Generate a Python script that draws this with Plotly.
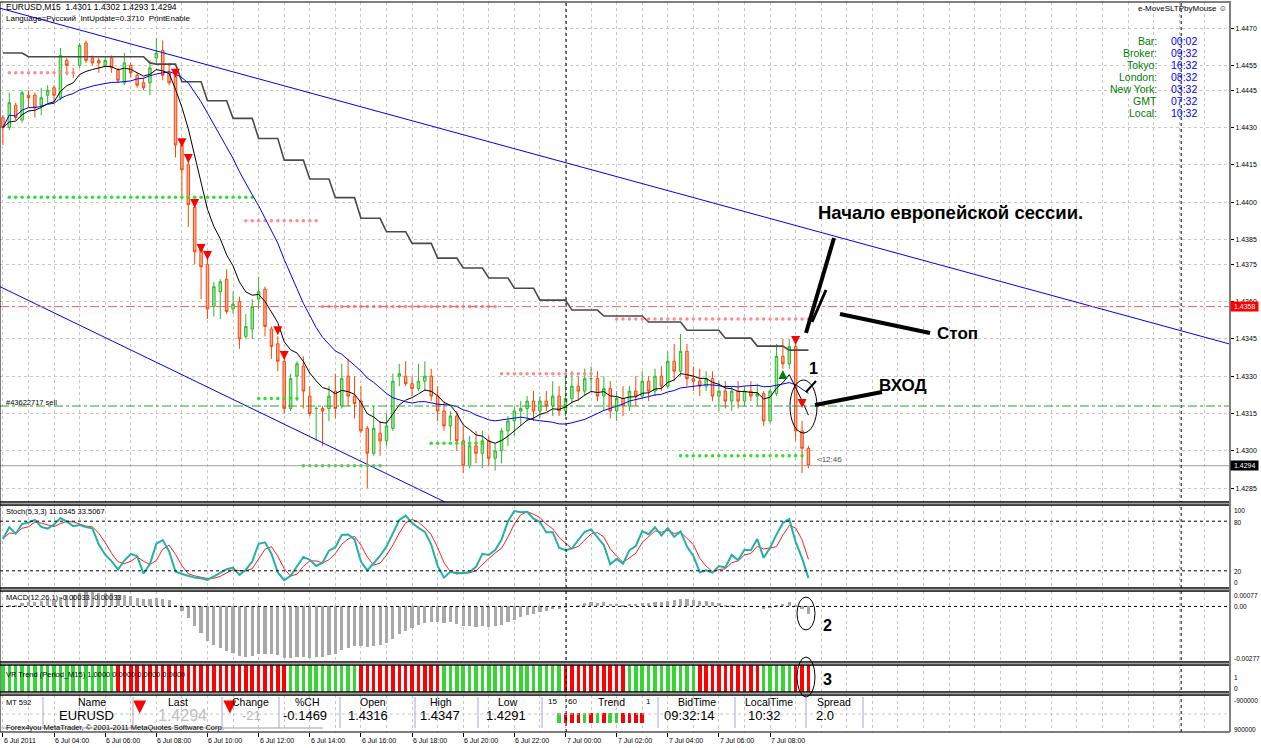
import numpy as np
import plotly.graph_objects as go

# ---------------- data (EURUSD M15, 6 Jul 02:00 .. 7 Jul 09:30) ----------------
opens = [1.4434,1.4430,1.4439,1.4433,1.4443,1.4443,1.4439,1.4443,1.4446,1.4442,
         1.4457,1.4452,1.4455,1.4464,1.4458,1.4457,1.4455,1.4458,1.4453,1.4448,
         1.4455,1.4451,1.4448,1.4448,1.4458,1.4461,1.4452,1.4451,1.4423,1.4415,
         1.4398,1.4381,1.4375,1.4358,1.4364,1.4369,1.4357,1.4360,1.4346,1.4349,
         1.4361,1.4365,1.4349,1.4343,1.4336,1.4317,1.4330,1.4334,1.4322,1.4317,
         1.4317,1.4317,1.4324,1.4318,1.4330,1.4322,1.4320,1.4309,1.4299,1.4307,
         1.4304,1.4309,1.4330,1.4330,1.4327,1.4325,1.4328,1.4330,1.4322,1.4316,
         1.4310,1.4314,1.4304,1.4294,1.4302,1.4299,1.4304,1.4297,1.4300,1.4308,
         1.4312,1.4316,1.4317,1.4320,1.4316,1.4320,1.4318,1.4322,1.4316,1.4321,
         1.4326,1.4324,1.4329,1.4329,1.4322,1.4325,1.4316,1.4321,1.4318,1.4324,
         1.4322,1.4328,1.4324,1.4330,1.4326,1.4336,1.4332,1.4340,1.4329,1.4328,
         1.4326,1.4329,1.4322,1.4324,1.4320,1.4324,1.4320,1.4324,1.4322,1.4323,
         1.4312,1.4323,1.4338,1.4335,1.4342,1.4308,1.4301]
highs = [1.4435,1.4444,1.4440,1.4445,1.4445,1.4444,1.4446,1.4447,1.4447,1.4462,
         1.4458,1.4454,1.4464,1.4465,1.4459,1.4458,1.4458,1.4459,1.4454,1.4460,
         1.4456,1.4452,1.4450,1.4457,1.4466,1.4465,1.4456,1.4453,1.4424,1.4418,
         1.4400,1.4382,1.4378,1.4368,1.4369,1.4373,1.4364,1.4362,1.4355,1.4361,
         1.4370,1.4366,1.4350,1.4346,1.4338,1.4331,1.4336,1.4338,1.4326,1.4318,
         1.4318,1.4326,1.4331,1.4335,1.4337,1.4330,1.4326,1.4310,1.4318,1.4312,
         1.4315,1.4331,1.4335,1.4336,1.4330,1.4335,1.4336,1.4333,1.4326,1.4320,
         1.4316,1.4316,1.4310,1.4306,1.4308,1.4308,1.4306,1.4303,1.4309,1.4314,
         1.4318,1.4320,1.4322,1.4324,1.4322,1.4324,1.4328,1.4326,1.4330,1.4332,
         1.4330,1.4333,1.4334,1.4332,1.4330,1.4328,1.4324,1.4326,1.4326,1.4330,
         1.4332,1.4330,1.4333,1.4334,1.4340,1.4343,1.4347,1.4343,1.4334,1.4333,
         1.4332,1.4332,1.4328,1.4328,1.4326,1.4328,1.4326,1.4328,1.4327,1.4324,
         1.4325,1.4343,1.4345,1.4345,1.4345,1.4312,1.4302]
lows = [1.4423,1.4429,1.4433,1.4432,1.4438,1.4434,1.4435,1.4440,1.4440,1.4441,
        1.4451,1.4450,1.4454,1.4456,1.4455,1.4452,1.4454,1.4452,1.4448,1.4447,
        1.4450,1.4446,1.4445,1.4443,1.4456,1.4449,1.4447,1.4418,1.4401,1.4390,
        1.4375,1.4361,1.4353,1.4354,1.4353,1.4355,1.4355,1.4341,1.4345,1.4345,
        1.4357,1.4346,1.4337,1.4332,1.4315,1.4316,1.4320,1.4317,1.4314,1.4304,
        1.4302,1.4312,1.4313,1.4317,1.4318,1.4313,1.4307,1.4285,1.4298,1.4298,
        1.4302,1.4308,1.4326,1.4326,1.4322,1.4324,1.4324,1.4320,1.4312,1.4308,
        1.4304,1.4300,1.4291,1.4293,1.4295,1.4293,1.4294,1.4292,1.4295,1.4302,
        1.4306,1.4310,1.4312,1.4312,1.4313,1.4316,1.4314,1.4314,1.4314,1.4319,
        1.4320,1.4322,1.4324,1.4320,1.4316,1.4313,1.4312,1.4314,1.4316,1.4318,
        1.4321,1.4320,1.4322,1.4324,1.4325,1.4328,1.4330,1.4326,1.4324,1.4322,
        1.4324,1.4320,1.4316,1.4317,1.4316,1.4317,1.4318,1.4320,1.4318,1.4310,
        1.4311,1.4322,1.4333,1.4333,1.4304,1.4291,1.4293]
closes = [1.4430,1.4440,1.4434,1.4444,1.4442,1.4438,1.4442,1.4445,1.4443,1.4459,
          1.4455,1.4452,1.4463,1.4457,1.4456,1.4456,1.4457,1.4454,1.4449,1.4456,
          1.4452,1.4447,1.4446,1.4454,1.4460,1.4451,1.4448,1.4423,1.4413,1.4399,
          1.4380,1.4374,1.4357,1.4366,1.4368,1.4356,1.4359,1.4345,1.4350,1.4358,
          1.4364,1.4350,1.4342,1.4336,1.4317,1.4329,1.4335,1.4324,1.4315,1.4317,
          1.4316,1.4322,1.4317,1.4329,1.4322,1.4319,1.4308,1.4299,1.4309,1.4304,
          1.4310,1.4328,1.4331,1.4327,1.4325,1.4328,1.4330,1.4322,1.4316,1.4310,
          1.4314,1.4304,1.4294,1.4302,1.4299,1.4304,1.4297,1.4300,1.4308,1.4312,
          1.4316,1.4317,1.4320,1.4316,1.4320,1.4318,1.4322,1.4316,1.4321,1.4326,
          1.4324,1.4329,1.4329,1.4322,1.4325,1.4316,1.4321,1.4318,1.4324,1.4322,
          1.4328,1.4324,1.4330,1.4326,1.4336,1.4332,1.4340,1.4329,1.4328,1.4326,
          1.4329,1.4322,1.4324,1.4320,1.4324,1.4320,1.4324,1.4322,1.4323,1.4312,
          1.4324,1.4338,1.4335,1.4342,1.4308,1.4301,1.4294]

tick_bars = [0, 8, 16, 24, 32, 40, 48, 56, 64, 72, 80, 88, 96, 104, 112, 120]
tick_text = ["6 Jul 2011", "6 Jul 04:00", "6 Jul 06:00", "6 Jul 08:00", "6 Jul 10:00",
             "6 Jul 12:00", "6 Jul 14:00", "6 Jul 16:00", "6 Jul 18:00", "6 Jul 20:00",
             "6 Jul 22:00", "7 Jul 00:00", "7 Jul 02:00", "7 Jul 04:00", "7 Jul 06:00",
             "7 Jul 08:00"]
price_ticks = [1.4470, 1.4455, 1.4445, 1.4430, 1.4415, 1.4400, 1.4385, 1.4375,
               1.4360, 1.4345, 1.4330, 1.4315, 1.4300, 1.4285]

# stepped trailing-stop line (start bar, end bar, level)
trail_start = [0, 4, 23, 24, 28, 32, 36, 40, 44, 48, 52, 56, 60, 64, 68, 72, 76, 80, 84, 89, 94, 101, 107, 113, 118, 123]
trail_end   = [3, 22, 23, 27, 31, 35, 39, 43, 47, 51, 55, 59, 63, 67, 71, 75, 79, 83, 88, 93, 100, 106, 112, 117, 122, 126]
trail_level = [1.4460, 1.44585, 1.4456, 1.44555, 1.44484, 1.44408, 1.44337, 1.44256, 1.44169,
               1.44093, 1.44018, 1.43935, 1.43881, 1.43834, 1.43775, 1.43735, 1.43695, 1.43654,
               1.43606, 1.43566, 1.43542, 1.43518, 1.43485, 1.43453, 1.43421, 1.43405]

# dotted support / resistance levels
lvl_price = [1.4452, 1.4402, 1.43925, 1.4358, 1.4321, 1.4294, 1.4303, 1.4331, 1.4353, 1.4298]
lvl_start = [1, 1, 38, 50, 40, 47, 67, 78, 96, 106]
lvl_end   = [11, 39, 49, 77, 46, 59, 75, 92, 126, 125]
lvl_kind  = ["res", "sup", "res", "res", "sup", "sup", "sup", "res", "res", "sup"]

sell_bars = [27, 28, 29, 30, 31, 32, 43, 44, 124, 125]
sell_price = [1.4450, 1.44221, 1.44157, 1.43976, 1.43795, 1.43767, 1.43465, 1.43365, 1.43425, 1.43172]
buy_bars = [122]
buy_price = [1.43325]

upper_line_bars = [-0.4536, 191.94]
upper_line_price = [1.4478, 1.43429]
lower_line_bars = [-0.4536, 69.15]
lower_line_price = [1.43660, 1.42794]

stop_level = 1.4358
order_level = 1.4318
bid_level = 1.4294

# VR Trend colour blocks
vr_start = [0, 18, 45, 50, 56, 69, 75, 88, 98, 109, 119, 124]
vr_end   = [17, 44, 49, 55, 68, 74, 87, 97, 108, 118, 123, 126]
vr_state = [1, 0, 1, 1, 0, 1, 1, 0, 1, 0, 1, 0]

mini_trend = [1, 0, 0, 0, 1, 0, 1, 0, 1, 1, 0, 0, 0, 0]

# ---------------- indicators ----------------
c = np.array(closes); h = np.array(highs); l = np.array(lows)
n = len(c)
bars = np.arange(n)

def ema(a, p):
    k = 2.0 / (p + 1); out = np.empty_like(a); out[0] = a[0]
    for i in range(1, len(a)):
        out[i] = k * a[i] + (1 - k) * out[i - 1]
    return out

def sma(a, p):
    return np.array([a[max(0, i - p + 1):i + 1].mean() for i in range(len(a))])

fast_ma = ema(c, 8)
slow_ma = sma(c, 21)
hh = np.array([h[max(0, i - 4):i + 1].max() for i in range(n)])
ll = np.array([l[max(0, i - 4):i + 1].min() for i in range(n)])
num = c - ll; den = hh - ll
stoch_main = np.array([100 * num[max(0, i - 2):i + 1].sum() / max(den[max(0, i - 2):i + 1].sum(), 1e-9) for i in range(n)])
stoch_sig = sma(stoch_main, 3)
macd = ema(c, 12) - ema(c, 26)

# ---------------- geometry helpers ----------------
W, H = 1230.0, 732.0
def P(x): return x / W
def Q(y): return 1 - y / H

FONT = "Liberation Sans"
panels = {"price": (2, 502), "stoch": (505, 588), "macd": (591, 662), "vr": (665, 692), "table": (695, 732)}
XR = [-0.4536, 191.94]

fig = go.Figure()

# trend channel
fig.add_trace(go.Scatter(x=upper_line_bars, y=upper_line_price, mode="lines", line=dict(color="#0000FF", width=1), yaxis="y"))
fig.add_trace(go.Scatter(x=lower_line_bars, y=lower_line_price, mode="lines", line=dict(color="#0000FF", width=1), yaxis="y"))

# trailing line
tx, ty = [], []
for s, e, v in zip(trail_start, trail_end, trail_level):
    tx += [s, e]; ty += [v, v]
fig.add_trace(go.Scatter(x=tx, y=ty, mode="lines", line=dict(color="#4A4A4A", width=1.6), yaxis="y"))

# dotted levels
for kind, col in (("res", "#FF8C8C"), ("sup", "#33DD33")):
    dx, dy = [], []
    for p_, s, e, k in zip(lvl_price, lvl_start, lvl_end, lvl_kind):
        if k == kind:
            dx += list(range(s, e + 1)); dy += [p_] * (e - s + 1)
    fig.add_trace(go.Scatter(x=dx, y=dy, mode="markers", marker=dict(color=col, size=3.5), yaxis="y"))

# candles
fig.add_trace(go.Candlestick(x=bars, open=opens, high=highs, low=lows, close=closes,
                             increasing=dict(line=dict(color="#2DB82D", width=1), fillcolor="#9BE89B"),
                             decreasing=dict(line=dict(color="#FF4500", width=1), fillcolor="#F8B0A0"),
                             yaxis="y"))

fig.add_trace(go.Scatter(x=bars, y=slow_ma, mode="lines", line=dict(color="#0000FF", width=1), yaxis="y"))
fig.add_trace(go.Scatter(x=bars, y=fast_ma, mode="lines", line=dict(color="#000000", width=1), yaxis="y"))

fig.add_trace(go.Scatter(x=sell_bars, y=sell_price, mode="markers", marker=dict(symbol="arrow-down", color="#FF0000", size=9), yaxis="y"))
fig.add_trace(go.Scatter(x=buy_bars, y=buy_price, mode="markers", marker=dict(symbol="arrow-up", color="#008000", size=9), yaxis="y"))

# stochastic
fig.add_trace(go.Scatter(x=bars, y=stoch_sig, mode="lines", line=dict(color="#FF2020", width=1), yaxis="y2"))
fig.add_trace(go.Scatter(x=bars, y=stoch_main, mode="lines", line=dict(color="#20B2AA", width=2), yaxis="y2"))

# MACD
fig.add_trace(go.Bar(x=bars, y=macd, width=0.5, marker=dict(color="#A8A8A8", line=dict(width=0)), yaxis="y3"))

# VR trend
vr_cols = [None] * n
for s, e, st in zip(vr_start, vr_end, vr_state):
    for i in range(s, e + 1):
        vr_cols[i] = "#33D633" if st else "#FF0000"
fig.add_trace(go.Bar(x=bars, y=[1] * n, width=0.55, marker=dict(color=vr_cols, line=dict(width=0)), yaxis="y4"))

# mini trend bars in the table
mx = [87 + k for k in range(len(mini_trend))]
fig.add_trace(go.Bar(x=mx, y=[0.28] * len(mx), base=[0.24] * len(mx), width=0.55,
                     marker=dict(color=["#33D633" if v else "#FF0000" for v in mini_trend], line=dict(width=0)), yaxis="y5"))

# red arrows in the table (Last / Change columns)
fig.add_trace(go.Scatter(x=[21.4, 35.5], y=[0.5, 0.5], mode="markers",
                         marker=dict(symbol="arrow-down", color="#FF0000", size=13), yaxis="y5"))

grid = dict(showgrid=True, gridcolor="#C8C8C8", griddash="3px,3px", gridwidth=1)

layout = dict(
    width=1261, height=748, margin=dict(l=0, r=31, t=0, b=16),
    paper_bgcolor="white", plot_bgcolor="white", showlegend=False, hovermode=False,
    bargap=0, barmode="overlay",
    boxgap=0.45,
    xaxis=dict(range=XR, anchor="y5", tickmode="array", tickvals=tick_bars, ticks="outside", ticklen=4,
               tickcolor="black", showticklabels=False, zeroline=False, rangeslider=dict(visible=False),
               minor=dict(tickmode="linear", tick0=0, dtick=4, ticks="", showgrid=True, gridcolor="#C8C8C8", griddash="3px,3px"),
               **grid),
    yaxis=dict(domain=[Q(panels["price"][1]), Q(panels["price"][0])], range=[1.42794, 1.44805], side="right",
               anchor="x", tickmode="array", tickvals=price_ticks, tickformat=".4f", ticks="outside", ticklen=3,
               tickcolor="black", tickfont=dict(size=7, family=FONT, color="black"), zeroline=False, **grid),
    yaxis2=dict(domain=[Q(panels["stoch"][1]), Q(panels["stoch"][0])], range=[-0.8, 99.6], anchor="x",
                showticklabels=False, showgrid=False, zeroline=False),
    yaxis3=dict(domain=[Q(panels["macd"][1]), Q(panels["macd"][0])], range=[-0.00277, 0.00077], anchor="x",
                showticklabels=False, showgrid=False, zeroline=False),
    yaxis4=dict(domain=[Q(panels["vr"][1]), Q(panels["vr"][0])], range=[0, 1], anchor="x",
                showticklabels=False, showgrid=False, zeroline=False),
    yaxis5=dict(domain=[Q(panels["table"][1]), Q(panels["table"][0])], range=[0, 1], anchor="x",
                showticklabels=False, showgrid=False, zeroline=False),
)
fig.update_layout(**layout)

shapes = []
# level lines
shapes.append(dict(type="line", xref="paper", yref="y", x0=0, x1=1, y0=bid_level, y1=bid_level, line=dict(color="#A0A0A0", width=1)))
shapes.append(dict(type="line", xref="paper", yref="y", x0=0, x1=1, y0=stop_level, y1=stop_level, line=dict(color="#FF6060", width=1, dash="dashdot")))
shapes.append(dict(type="line", xref="paper", yref="y", x0=0, x1=1, y0=order_level, y1=order_level, line=dict(color="#2E9E2E", width=1, dash="dashdot")))
for lv in (80, 20):
    shapes.append(dict(type="line", xref="paper", yref="y2", x0=0, x1=1, y0=lv, y1=lv, line=dict(color="black", width=1, dash="3px,3px")))
shapes.append(dict(type="line", xref="paper", yref="y3", x0=0, x1=1, y0=0, y1=0, line=dict(color="black", width=1, dash="3px,3px")))
shapes.append(dict(type="line", xref="paper", yref="paper", x0=0, x1=1, y0=Q(714), y1=Q(714), line=dict(color="#C8C8C8", width=1, dash="3px,3px")))
# vertical separators
for vb in (88.1, 184.3):
    shapes.append(dict(type="line", xref="x", yref="paper", x0=vb, x1=vb, y0=0, y1=Q(1), line=dict(color="black", width=1, dash="3px,3px")))
# panel frames
for name, (t, b) in panels.items():
    shapes.append(dict(type="rect", xref="paper", yref="paper", x0=0, x1=1, y0=Q(b), y1=Q(t), line=dict(color="black", width=1)))
for t, b in ((502, 505), (588, 591), (662, 665), (692, 695)):
    shapes.append(dict(type="rect", xref="paper", yref="paper", x0=0, x1=1, y0=Q(b), y1=Q(t), fillcolor="#A0A0A0", line=dict(color="black", width=1)))
shapes.append(dict(type="line", xref="paper", yref="paper", x0=1, x1=1, y0=0, y1=Q(1), line=dict(color="#808080", width=2)))
# table column separators
for sx in (43, 133, 222, 279, 340, 415, 478, 542, 658, 735, 806, 863):
    shapes.append(dict(type="line", xref="paper", yref="paper", x0=P(sx), x1=P(sx), y0=Q(728), y1=Q(697), line=dict(color="#A8A8C8", width=1)))
shapes.append(dict(type="line", xref="paper", yref="paper", x0=0, x1=P(323), y0=Q(728), y1=Q(728), line=dict(color="#A0A0A0", width=1)))
# hand-drawn marks
def seg(x0, y0, x1, y1, w):
    shapes.append(dict(type="line", xref="paper", yref="paper", x0=P(x0), y0=Q(y0), x1=P(x1), y1=Q(y1), line=dict(color="black", width=w)))
seg(834, 238, 806, 333, 4)
seg(826, 290, 812, 322, 3)
seg(840, 314, 930, 333, 4)
seg(815, 405, 882, 392, 4)
seg(806, 392, 816, 381, 2)
for (x0, y0, x1, y1) in ((790, 380, 817, 433), (797, 597, 815, 630), (797, 657, 815, 697)):
    shapes.append(dict(type="circle", xref="paper", yref="paper", x0=P(x0), x1=P(x1), y0=Q(y1), y1=Q(y0), line=dict(color="black", width=1)))
fig.update_layout(shapes=shapes)

ann = []
def txt(x, y, s, size=8, color="black", xanchor="left", family=FONT, bg=None):
    d = dict(x=P(x), y=Q(y), xref="paper", yref="paper", text=s, showarrow=False, xanchor=xanchor,
             yanchor="middle", font=dict(size=size, color=color, family=family), borderpad=0)
    if bg:
        d["bgcolor"] = bg
    ann.append(d)

for tb, tt in zip(tick_bars, tick_text):
    ann.append(dict(x=tb, y=Q(740), xref="x", yref="paper", text=tt, showarrow=False, xanchor="left",
                    yanchor="middle", font=dict(size=7, family=FONT, color="black"), borderpad=0))

txt(5, 7, "EURUSD,M15  1.4301 1.4302 1.4293 1.4294", 8.5)
txt(5, 18, "Language=Русский  IntUpdate=0.3710  PrintEnable", 8)
txt(1228, 8, "e-MoveSLTPbyMouse ☺", 8, xanchor="right")
clock_names = ["Bar:", "Broker:", "Tokyo:", "London:", "New York:", "GMT", "Local:"]
clock_vals = ["00:02", "09:32", "16:32", "08:32", "03:32", "07:32", "10:32"]
for k, (nm, vv) in enumerate(zip(clock_names, clock_vals)):
    txt(1158, 41 + 12 * k, nm, 10.5, color="#008000", xanchor="right")
    txt(1170, 41 + 12 * k, vv, 10.5, color="#0000FF")
txt(5, 402, "#43622717 sell", 7.5)
txt(816, 459, "<12:46", 8, color="#505050")
txt(5, 511, "Stoch(5,3,3) 11.0345 33.5067", 7.5)
txt(5, 597, "MACD(12,26,1) -0.00033 -0.00033", 7.5)
txt(5, 674, "VR Trend (Period_M15) 1.0000 0.0000 0.0000 0.0000", 7.5)
for s, y in (("100", 510), ("80", 522), ("20", 571), ("0", 582), ("0.00077", 595), ("0.00", 606),
             ("-0.00277", 658), ("1", 677), ("0", 688), ("-900000", 700), ("900000", 729)):
    txt(1233, y, s, 6.5)
ann.append(dict(x=1.0, y=stop_level, xref="paper", yref="y", text=" 1.4358 ", showarrow=False, xanchor="left",
                yanchor="middle", font=dict(size=7, color="white", family=FONT), bgcolor="#FF0000", borderpad=1))
ann.append(dict(x=1.0, y=bid_level, xref="paper", yref="y", text=" 1.4294 ", showarrow=False, xanchor="left",
                yanchor="middle", font=dict(size=7, color="white", family=FONT), bgcolor="#000000", borderpad=1))

txt(950, 213, "<b>Начало европейской сессии.</b>", 18.5, xanchor="center")
txt(958, 333, "<b>Стоп</b>", 17, xanchor="center")
txt(903, 385, "<b>ВХОД</b>", 17, xanchor="center")
txt(813, 368, "<b>1</b>", 16, xanchor="center")
txt(827, 625, "<b>2</b>", 16, xanchor="center")
txt(827, 679, "<b>3</b>", 16, xanchor="center")

# table
txt(5, 702, "MT 592", 7.5)
for s, x in (("Name", 92), ("Last", 178), ("Change", 250), ("%CH", 307), ("Open", 373), ("High", 441),
             ("Low", 508), ("Trend", 611), ("BidTime", 697), ("LocalTime", 769), ("Spread", 834)):
    txt(x, 702, s, 10.5, xanchor="center")
txt(552, 701, "15", 8, xanchor="center"); txt(572, 701, "60", 8, xanchor="center"); txt(648, 701, "1", 8, xanchor="center")
for s, x, sz, col in (("EURUSD", 87, 13, "black"), ("1.4294", 182, 16, "#C0C0C0"), ("-21", 251, 13, "#B8B8B8"),
                      ("-0.1469", 305, 13, "black"), ("1.4316", 368, 13, "black"), ("1.4347", 440, 13, "black"),
                      ("1.4291", 506, 13, "black"), ("09:32:14", 689, 13, "black"), ("10:32", 764, 13, "black"),
                      ("2.0", 825, 13, "black")):
    txt(x, 715, s, sz, color=col, xanchor="center")
txt(5, 727, "Forex4you MetaTrader, © 2001-2011 MetaQuotes Software Corp.", 7.5)

fig.update_layout(annotations=ann)
fig.write_html("out.html")
